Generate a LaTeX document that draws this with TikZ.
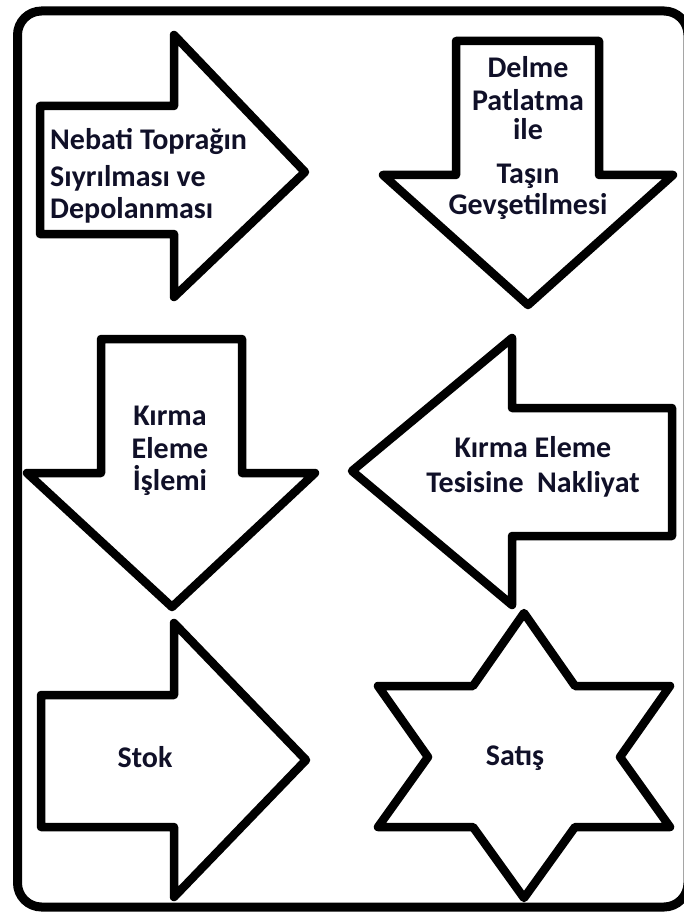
\documentclass[tikz,border=0pt]{standalone}
\usepackage{fontspec}
\setmainfont{Carlito}
\definecolor{txt}{RGB}{16,16,40}
\begin{document}
\begin{tikzpicture}[x=1pt,y=-1pt,
  shapeline/.style={draw=black,line width=8.5pt,line join=round,fill=white},
  frameline/.style={draw=black,line width=9pt,rounded corners=24pt},
  lbl/.style={font=\fontsize{30}{34}\selectfont\bfseries,text=txt,inner sep=0pt,anchor=base}]
\useasboundingbox (0,0) rectangle (684,912);
\clip (0,0) rectangle (684,912);
\draw[frameline] (17.5,11) rectangle (688,907);
% arrow 1 (right)
\draw[shapeline] (40,106) -- (174,106) -- (174,35) -- (305,172) -- (174,297) -- (174,234) -- (40,234) -- cycle;
% arrow 2 (down)
\draw[shapeline] (456,41) -- (599,41) -- (599,175) -- (673,175) -- (528,305) -- (383,175) -- (456,175) -- cycle;
% arrow 3 (down)
\draw[shapeline] (101,339) -- (242,339) -- (242,473) -- (315,473) -- (172,607) -- (27,473) -- (101,473) -- cycle;
% arrow 4 (left)
\draw[shapeline] (672,408) -- (512,408) -- (512,338) -- (352,471) -- (512,605) -- (512,536) -- (672,536) -- cycle;
% arrow 5 (right)
\draw[shapeline] (41,695) -- (174,695) -- (174,623) -- (306,760) -- (174,897) -- (174,827) -- (41,827) -- cycle;
% star
\draw[shapeline] (524,613) -- (575,686) -- (670,686) -- (620,757) -- (670,827) -- (575,827) -- (524,898) -- (473,827) -- (378,827) -- (428,757) -- (378,686) -- (473,686) -- cycle;
% labels
\node[lbl,align=left,anchor=base west] (t1) at (50,218) {Nebati Toprağın\\[3pt]Sıyrılması ve\\[-2pt]Depolanması};
\node[lbl,align=center] (t2) at (528,214) {Delme\\[-2pt]Patlatma\\[-4pt]ile\\[10pt]Taşın\\[-4pt]Gevşetilmesi};
\node[lbl,align=center] (t3) at (170,490) {Kırma\\[-1pt]Eleme\\[-2pt]İşlemi};
\node[lbl,align=center] (t4) at (533,492) {Kırma Eleme\\[1pt]Tesisine\ \ Nakliyat};
\node[lbl] (t5) at (145,767) {Stok};
\node[lbl] (t6) at (515,765) {Satış};
\end{tikzpicture}
\end{document}
